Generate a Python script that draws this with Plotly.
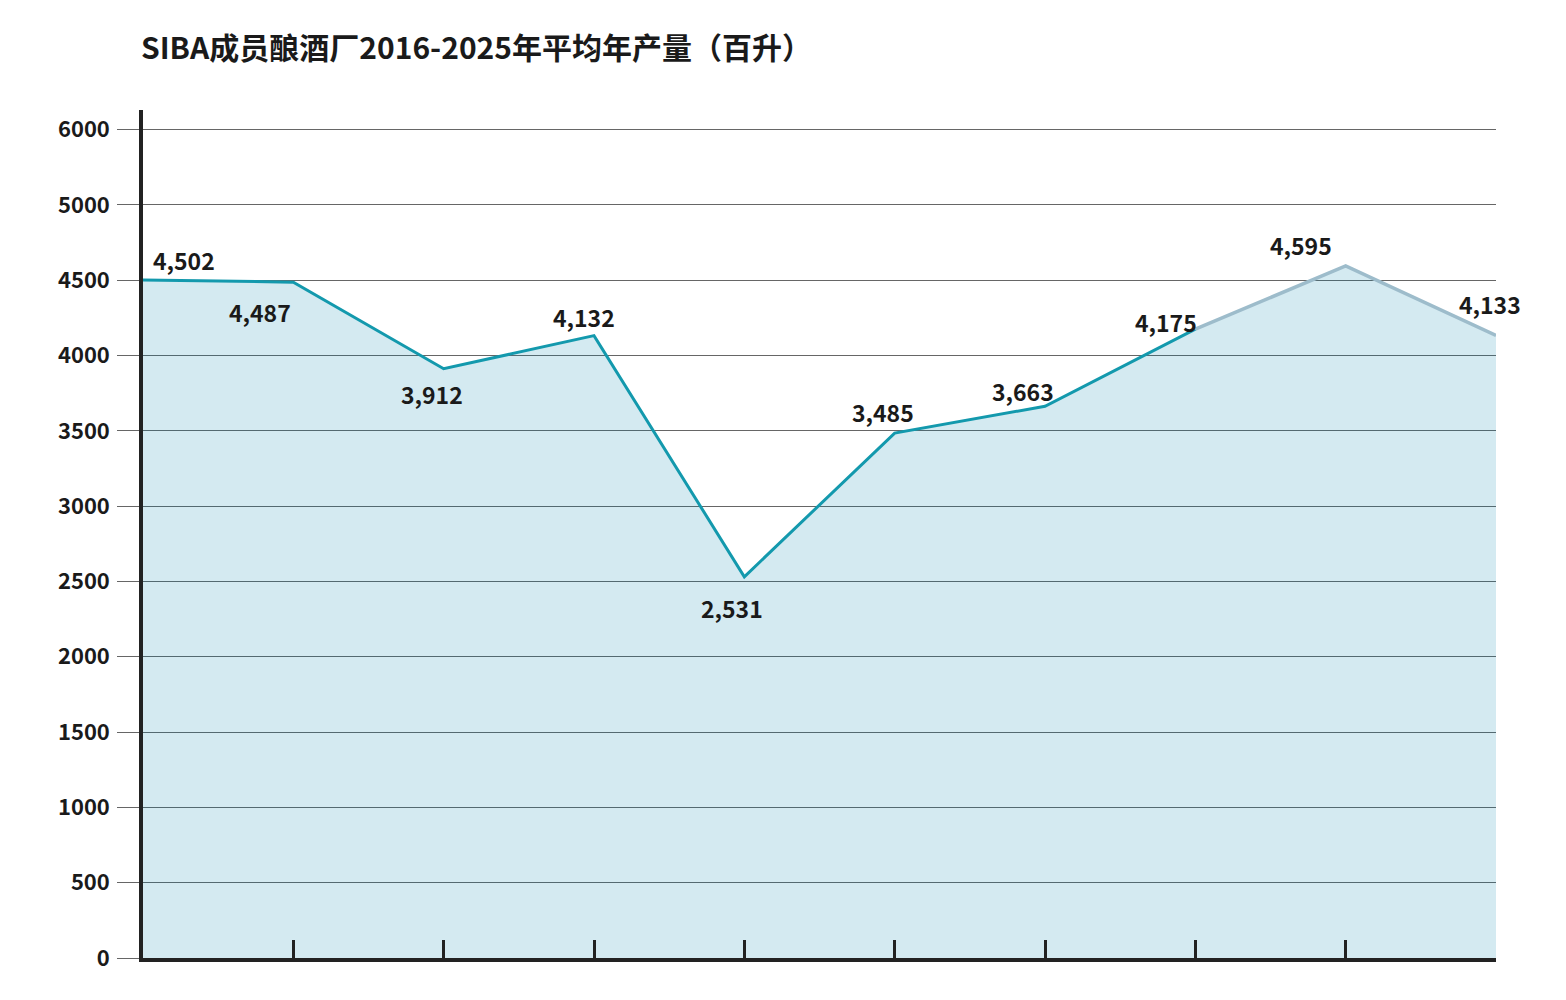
import plotly.graph_objects as go

years = list(range(2016, 2026))
values = [4502, 4487, 3912, 4132, 2531, 3485, 3663, 4175, 4595, 4133]
tick_vals = [0, 500, 1000, 1500, 2000, 2500, 3000, 3500, 4000, 4500, 5000, 5500]
tick_text = ["0", "500", "1000", "1500", "2000", "2500", "3000", "3500", "4000", "4500", "5000", "6000"]
title = "SIBA成员酿酒厂2016-2025年平均年产量（百升）"

# label offsets (pixels) for each data label
label_dx = [41, -33, -12, -10, -12, -12, -22, -29, -45, -6]
label_dy = [20, -30, -25, 19, -31, 21, 15, 7, 21, 31]

x = list(range(len(years)))
split = 7

FONT = "Noto Sans CJK SC"

fig = go.Figure()
fig.add_trace(go.Scatter(x=x, y=values, mode="lines", line=dict(width=0),
                         fill="tozeroy", fillcolor="rgba(0,130,170,0.17)",
                         hoverinfo="skip", showlegend=False))
fig.add_trace(go.Scatter(x=x[:split + 1], y=values[:split + 1], mode="lines",
                         line=dict(color="#1399ad", width=3), showlegend=False))
fig.add_trace(go.Scatter(x=x[split:], y=values[split:], mode="lines",
                         line=dict(color="#9dbccb", width=3.5), showlegend=False))

for i, v in enumerate(values):
    fig.add_annotation(x=x[i], y=v, text=f"<b>{v:,}</b>", showarrow=False,
                       xshift=label_dx[i], yshift=label_dy[i],
                       font=dict(family=FONT, size=23, color="#1a1a1a"))

fig.update_layout(
    width=1566, height=1000,
    margin=dict(l=143, r=70, t=110, b=42),
    paper_bgcolor="white", plot_bgcolor="white",
    title=dict(text=f"<b>{title}</b>", x=141 / 1566, xanchor="left",
               y=1 - 48 / 1000, yanchor="middle",
               font=dict(family=FONT, size=30, color="#1a1a1a")),
    xaxis=dict(range=[0, 9], tickvals=x, showticklabels=False,
               showgrid=False, zeroline=False,
               showline=True, linecolor="#222", linewidth=3.5,
               ticks="inside", ticklen=18, tickwidth=3, tickcolor="#222"),
    yaxis=dict(range=[0, 5630], tickvals=tick_vals,
               ticktext=[f"<b>{t}</b>" for t in tick_text],
               showgrid=True, gridcolor="#666", gridwidth=1.2,
               zeroline=False, showline=True, linecolor="#222", linewidth=3.5,
               ticks="outside", ticklen=22, tickwidth=1.2, tickcolor="#666",
               ticklabelstandoff=3,
               tickfont=dict(family=FONT, size=22, color="#1a1a1a")),
)

fig.write_html("out.html")
